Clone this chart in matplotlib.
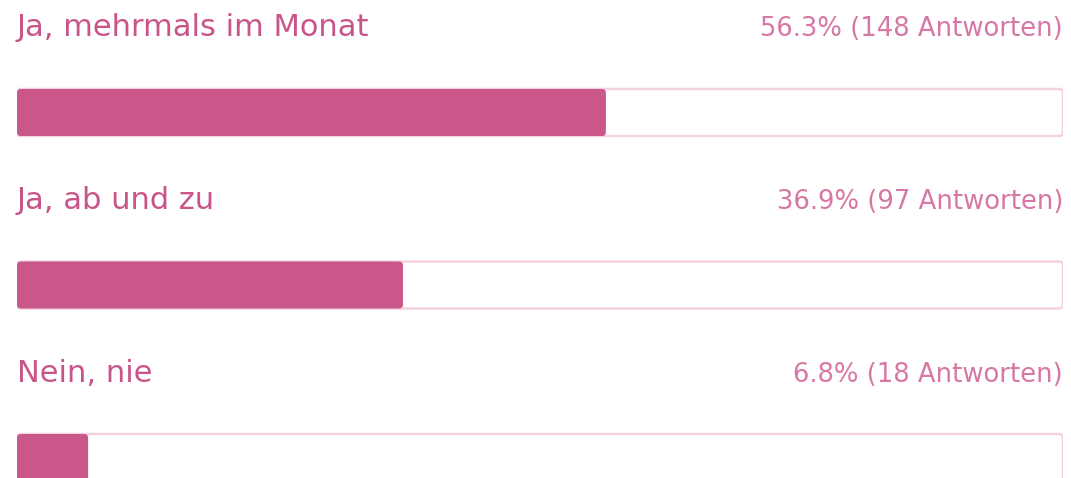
import matplotlib
matplotlib.use("Agg")
import matplotlib.pyplot as plt
from matplotlib.patches import FancyBboxPatch

categories = ["Ja, mehrmals im Monat", "Ja, ab und zu", "Nein, nie"]
percents = [56.3, 36.9, 6.8]
counts = [148, 97, 18]

W, H = 1071, 478
fig = plt.figure(figsize=(W / 100, H / 100), dpi=100)
left_px, right_px = 17, 1063
ax = fig.add_axes([left_px / W, 0, (right_px - left_px) / W, 1])
ax.set_xlim(0, 100)
spacing = 172.5
ax.set_ylim(2 + (H - 457.5) / spacing, -112.5 / spacing)
ax.axis("off")

bar_h = 47 / spacing
xu = 100 / (right_px - left_px)   # data units per px in x
yu = 1 / spacing                  # data units per px in y
aspect = yu / xu

fill_color = "#c95789"
track_edge = "#f4d2e1"
label_color = "#c8548a"
value_color = "#d677a5"

fam = ["DejaVu Sans"]

ys = list(range(len(categories)))
tracks = ax.barh(ys, [100] * len(ys), height=bar_h, color="none")
fills = ax.barh(ys, percents, height=bar_h, color="none")

def rounded(bar, fc, ec, lw, z):
    x, y = bar.get_xy()
    w, h = bar.get_width(), bar.get_height()
    p = FancyBboxPatch((x, y), w, h, boxstyle=f"round,pad=0,rounding_size={4 * xu}",
                       mutation_aspect=aspect, fc=fc, ec=ec, lw=lw, zorder=z)
    ax.add_patch(p)
    bar.set_visible(False)

for b in tracks:
    rounded(b, "white", track_edge, 1.8, 1)
for b in fills:
    rounded(b, fill_color, "none", 0, 2)

for y, cat, p, c in zip(ys, categories, percents, counts):
    ax.text(0, y - 76 / spacing, cat, ha="left", va="baseline", fontsize=22,
            color=label_color, family=fam)
    ax.text(100, y - 76 / spacing, f"{p}% ({c} Antworten)", ha="right", va="baseline",
            fontsize=18.6, color=value_color, family=fam)

fig.savefig("out.png", dpi=100)
